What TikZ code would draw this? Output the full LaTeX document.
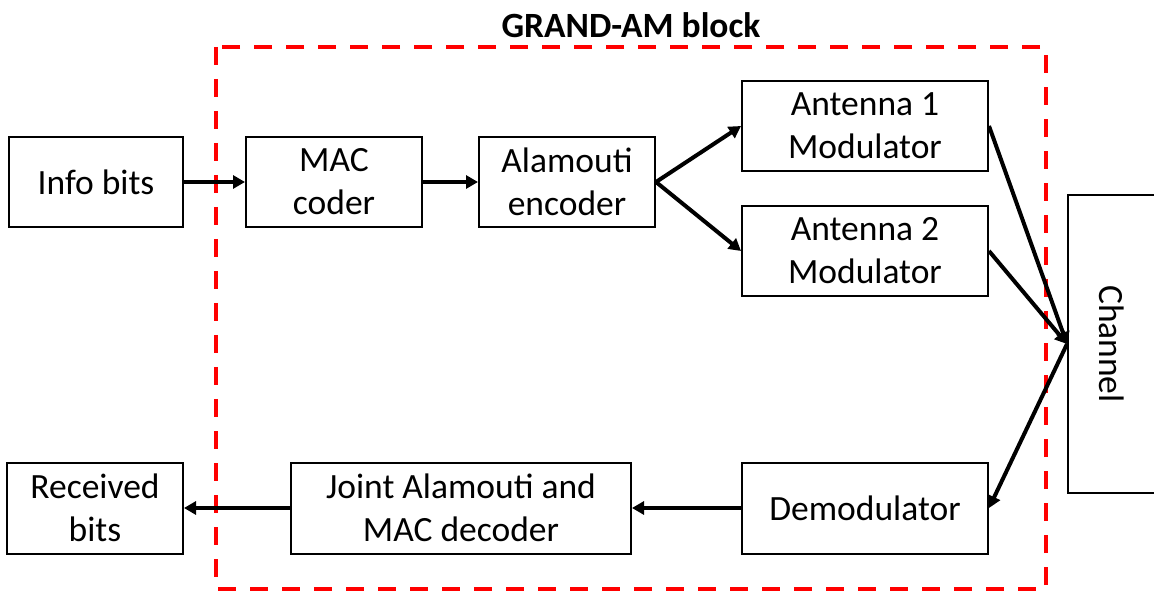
\documentclass[tikz,border=0pt]{standalone}
\usepackage{fontspec}
\setmainfont{Carlito}
\usetikzlibrary{arrows.meta}
\begin{document}
\begin{tikzpicture}[x=1pt,y=-1pt,
  blk/.style={draw=black, line width=2pt, fill=white, align=center, inner sep=0pt,
    font=\fontsize{35.5}{43}\selectfont},
  flow/.style={line width=4pt, -{Triangle[length=12pt,width=13pt]}},
  region/.style={draw=red, line width=4pt, dash pattern=on 18pt off 14pt}]
\useasboundingbox (0,0) rectangle (1154,593);

% GRAND-AM region
\draw[region] (216,47) rectangle (1046,589);
\node[font=\fontsize{35.5}{43}\selectfont\bfseries] (title) at (631,25) {GRAND-AM block};

% transmitter chain
\node[blk, minimum width=174pt, minimum height=90pt] (info) at (96,182) {Info bits};
\node[blk, minimum width=176pt, minimum height=90pt] (mac)  at (334,182) {MAC\\coder};
\node[blk, minimum width=176pt, minimum height=90pt] (ala)  at (567,182) {Alamouti\\encoder};
\node[blk, minimum width=246pt, minimum height=90pt] (ant1) at (865,126) {Antenna 1\\Modulator};
\node[blk, minimum width=246pt, minimum height=90pt] (ant2) at (865,251) {Antenna 2\\Modulator};

% channel
\node[blk, minimum width=88pt, minimum height=298pt] (chan) at (1112,344) {};
\node[font=\fontsize{35.5}{43}\selectfont, rotate=-90] (chanlabel) at (chan.center) {Channel};

% receiver chain
\node[blk, minimum width=246pt, minimum height=91pt] (demod) at (865,508) {Demodulator};
\node[blk, minimum width=340pt, minimum height=91pt] (joint) at (461,508) {Joint Alamouti and\\MAC decoder};
\node[blk, minimum width=176pt, minimum height=91pt] (recv)  at (95,508) {Received\\bits};

% connectors
\draw[flow] (info) -- (mac);
\draw[flow] (mac) -- (ala);
\draw[flow] (ala.east) -- (ant1.west);
\draw[flow] (ala.east) -- (ant2.west);
\draw[flow] (ant1.east) -- (chan.west);
\draw[flow] (ant2.east) -- (chan.west);
\draw[flow] (chan.west) -- (demod.east);
\draw[flow] (demod) -- (joint);
\draw[flow] (joint) -- (recv);
\end{tikzpicture}
\end{document}
